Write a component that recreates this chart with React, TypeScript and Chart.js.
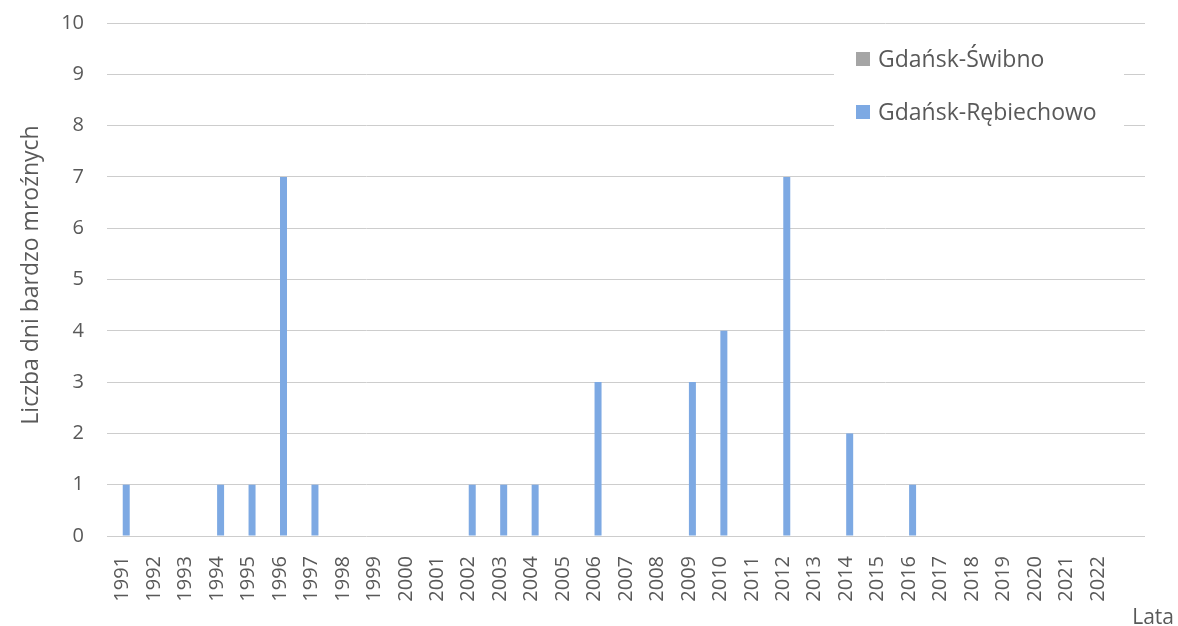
import React, { useEffect, useRef } from "react";
import { Chart, registerables } from "chart.js";

Chart.register(...registerables);

const years = [
  "1991", "1992", "1993", "1994", "1995", "1996", "1997", "1998", "1999", "2000",
  "2001", "2002", "2003", "2004", "2005", "2006", "2007", "2008", "2009", "2010",
  "2011", "2012", "2013", "2014", "2015", "2016", "2017", "2018", "2019", "2020",
  "2021", "2022", "",
];

const swibno = [
  0, 0, 0, 0, 0, 0, 0, 0, 0, 0,
  0, 0, 0, 0, 0, 0, 0, 0, 0, 0,
  0, 0, 0, 0, 0, 0, 0, 0, 0, 0,
  0, 0, null,
];

const rebiechowo = [
  1, 0, 0, 1, 1, 7, 1, 0, 0, 0,
  0, 1, 1, 1, 0, 3, 0, 0, 3, 4,
  0, 7, 0, 2, 0, 1, 0, 0, 0, 0,
  0, 0, null,
];

const seriesNames = ["Gdańsk-Świbno", "Gdańsk-Rębiechowo"];
const yTicks = [0, 1, 2, 3, 4, 5, 6, 7, 8, 9, 10];
const yTitle = "Liczba dni bardzo mroźnych";
const xTitle = "Lata";

const FONT = "'Open Sans'";
const TEXT = "#595959";

const overlayPlugin = {
  id: "overlay",
  afterDraw(chart: any) {
    const ctx = chart.ctx as CanvasRenderingContext2D;
    ctx.save();
    // legend box
    ctx.fillStyle = "#ffffff";
    ctx.fillRect(834, 38, 290, 98);
    const ds = chart.data.datasets;
    const rows = [59, 112];
    ds.forEach((d: any, i: number) => {
      const y = rows[i];
      ctx.fillStyle = d.backgroundColor;
      ctx.fillRect(856, y - 7, 14, 14);
      ctx.fillStyle = TEXT;
      ctx.font = `23px ${FONT}`;
      ctx.textAlign = "left";
      ctx.textBaseline = "middle";
      ctx.fillText(d.label, 878, y + 1);
    });
    // y-axis title
    ctx.save();
    ctx.translate(31, 275);
    ctx.rotate(-Math.PI / 2);
    ctx.fillStyle = TEXT;
    ctx.font = `23px ${FONT}`;
    ctx.textAlign = "center";
    ctx.textBaseline = "middle";
    ctx.fillText(yTitle, 0, 0);
    ctx.restore();
    // x-axis title
    ctx.fillStyle = TEXT;
    ctx.font = `21px ${FONT}`;
    ctx.textAlign = "right";
    ctx.textBaseline = "alphabetic";
    ctx.fillText(xTitle, 1174, 624);
    ctx.restore();
  },
};

export default function App() {
  const ref = useRef<HTMLCanvasElement | null>(null);

  useEffect(() => {
    if (!ref.current) return;
    const chart = new Chart(ref.current, {
      type: "bar",
      data: {
        labels: years,
        datasets: [
          {
            label: seriesNames[0],
            data: swibno,
            backgroundColor: "#A5A5A5",
            borderWidth: 0,
          },
          {
            label: seriesNames[1],
            data: rebiechowo,
            backgroundColor: "#7DA9E3",
            borderWidth: 0,
          },
        ],
      },
      options: {
        animation: false,
        responsive: true,
        maintainAspectRatio: false,
        datasets: {
          bar: {
            categoryPercentage: 0.445,
            barPercentage: 1,
          },
        },
        layout: {
          padding: { top: 23, right: 33, left: 0, bottom: 0 },
        },
        plugins: {
          legend: { display: false },
          tooltip: { enabled: false },
        },
        scales: {
          x: {
            grid: { display: false, drawTicks: false },
            border: { display: false },
            ticks: {
              autoSkip: false,
              minRotation: 90,
              maxRotation: 90,
              padding: 20,
              color: TEXT,
              font: { family: FONT, size: 20 },
            },
            afterFit(scale: any) {
              scale.height = 90;
              scale.paddingLeft = 0;
              scale.paddingRight = 0;
            },
          },
          y: {
            min: 0,
            max: 10,
            afterBuildTicks(scale: any) {
              scale.ticks = yTicks.map((v) => ({ value: v }));
            },
            grid: {
              color: "#CDCDCD",
              lineWidth: 1,
              drawTicks: false,
            },
            border: { display: false },
            ticks: {
              padding: 23,
              color: TEXT,
              font: { family: FONT, size: 20 },
            },
            afterFit(scale: any) {
              scale.width = 107;
              scale.paddingTop = 0;
              scale.paddingBottom = 0;
            },
          },
        },
      },
      plugins: [overlayPlugin],
    });
    return () => chart.destroy();
  }, []);

  return (
    <div style={{ position: "fixed", left: 0, top: 0, width: 1178, height: 626, background: "#fff" }}>
      <canvas ref={ref} />
    </div>
  );
}
